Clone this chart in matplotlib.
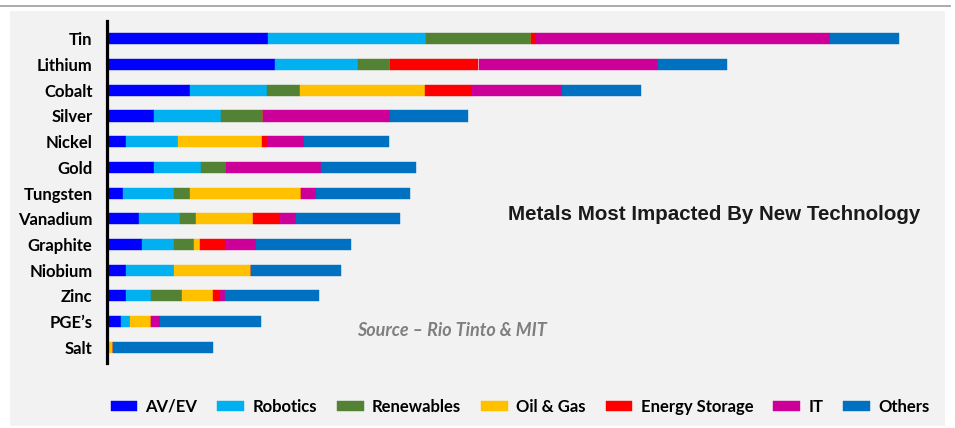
import matplotlib.pyplot as plt
from matplotlib.patches import Rectangle
from matplotlib.lines import Line2D

metals = ["Tin", "Lithium", "Cobalt", "Silver", "Nickel", "Gold", "Tungsten",
          "Vanadium", "Graphite", "Niobium", "Zinc", "PGE\u2019s", "Salt"]

sectors = ["AV/EV", "Robotics", "Renewables", "Oil & Gas", "Energy Storage", "IT", "Others"]
colors = ["#0000FF", "#00B0F0", "#548235", "#FFC000", "#FF0000", "#CC0099", "#0070C0"]

# impact score per metal, one list per sector
av_ev      = [161.3, 168.0, 83.0, 47.0, 19.3, 47.0, 16.0, 32.0, 35.7, 19.7, 19.3, 14.3, 0.0]
robotics   = [158.4, 83.3, 77.3, 67.7, 51.7, 47.3, 51.0, 41.0, 31.3, 47.3, 25.4, 9.0, 0.0]
renewables = [104.6, 32.4, 32.7, 42.0, 0.0, 25.4, 16.3, 16.0, 20.0, 0.0, 31.0, 0.0, 0.0]
oil_gas    = [0.0, 0.0, 125.7, 0.0, 84.3, 0.0, 110.7, 57.7, 6.0, 77.7, 30.6, 21.0, 6.0]
storage    = [5.0, 88.3, 47.0, 0.0, 5.0, 0.0, 0.0, 26.3, 25.0, 0.0, 6.7, 0.0, 0.0]
it         = [294.4, 179.0, 89.6, 127.0, 37.4, 95.0, 15.0, 16.0, 31.7, 0.0, 5.0, 9.4, 0.0]
others     = [68.3, 69.0, 78.7, 78.3, 84.6, 95.0, 94.7, 104.7, 94.6, 89.6, 94.7, 100.3, 100.7]

series = [av_ev, robotics, renewables, oil_gas, storage, it, others]

W, H = 955, 428
fig = plt.figure(figsize=(W / 100, H / 100), dpi=100)
fig.patch.set_facecolor("white")

# grey panel and the thin rule above it
fig.patches.append(Rectangle((10 / W, 2 / H), 935 / W, 415 / H, transform=fig.transFigure,
                             facecolor="#F2F2F2", edgecolor="none", zorder=-5))
fig.lines.append(Line2D([0, 950 / W], [1 - 5.5 / H, 1 - 5.5 / H], transform=fig.transFigure,
                        color="#A5A5A5", linewidth=1.3, zorder=-5))

ax_left, ax_top, ax_bottom = 106.5, 21, 363
ax = fig.add_axes([ax_left / W, 1 - ax_bottom / H, (945 - ax_left) / W, (ax_bottom - ax_top) / H])
ax.set_facecolor("none")

y = list(range(len(metals)))
left = [0.0] * len(metals)
bars = []
for name, vals, c in zip(sectors, series, colors):
    b = ax.barh(y, vals, left=left, height=0.43, color=c, label=name,
                edgecolor=c, linewidth=0.3)
    bars.append(b)
    left = [l + v for l, v in zip(left, vals)]

ax.set_xlim(0, 945 - ax_left)
ax.set_ylim(12.62, -0.70)
ax.set_yticks(y)
ax.set_yticklabels(metals, fontfamily="Lato", fontweight="bold", fontsize=12)
ax.tick_params(axis="y", length=0, pad=10)
ax.set_xticks([])
for s in ["top", "right", "bottom"]:
    ax.spines[s].set_visible(False)
ax.spines["left"].set_linewidth(2.3)
ax.spines["left"].set_color("black")

fig.text(714 / W, 1 - 214 / H, "Metals Most Impacted By New Technology",
         ha="center", va="center", fontsize=14.8, fontweight="bold",
         fontfamily="Liberation Sans", color="#1A1A1A")
fig.text(452 / W, 1 - 331 / H, "Source \u2013 Rio Tinto & MIT",
         ha="center", va="center", fontsize=13, fontweight="bold", fontstyle="italic",
         fontfamily="Lato", color="#7F7F7F")

fig.legend(handles=bars, labels=sectors, ncol=7, loc="center",
           bbox_to_anchor=(520 / W, 1 - 407 / H), frameon=False,
           prop={"family": "Lato", "weight": "bold", "size": 12},
           handlelength=1.6, handleheight=0.6, handletextpad=0.5, columnspacing=1.2)

fig.savefig("out.png", dpi=100, facecolor=fig.get_facecolor())
